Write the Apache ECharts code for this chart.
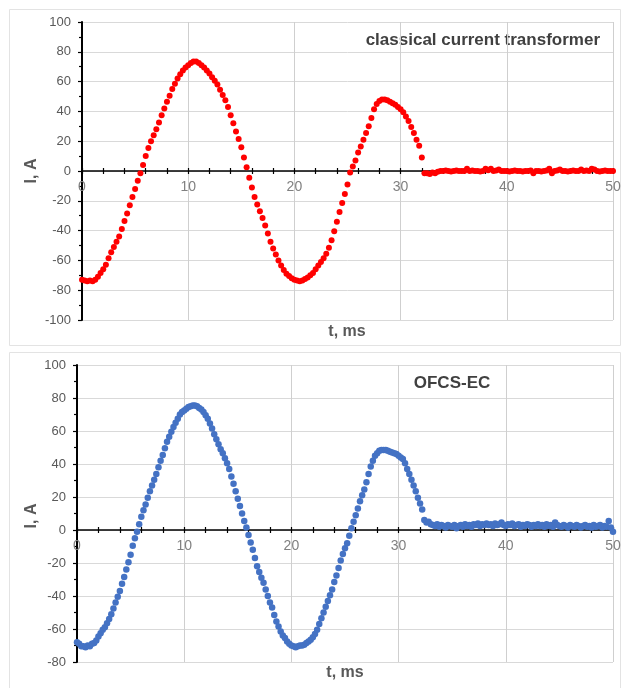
<!DOCTYPE html>
<html>
<head>
<meta charset="utf-8">
<title>classical current transformer / OFCS-EC</title>
<script src="https://cdn.jsdelivr.net/npm/echarts@6.0.0/dist/echarts.min.js"></script>
<style>
  html, body { margin: 0; padding: 0; background: #fff; }
  #chart { width: 622px; height: 688px; }
</style>
</head>
<body>
<div id="chart"></div>
<script>
// time axis, ms
var tRange = [0, 50];
var tInterval = 10;

// current axis ranges, A
var yRangeTop = [-100, 100];
var yRangeBottom = [-80, 100];
var yInterval = 20;

// classical current transformer, one sample every 0.25 ms (rows = 2 ms)
var ctStep = 0.25;
var ctCurrent = [
  -73, -73.5, -74, -73.5, -74, -73, -71, -68.5,
  -66, -63, -58.5, -54.5, -51, -47.5, -44, -39,
  -33.5, -28.5, -23, -17.5, -12, -6.5, -1.5, 4,
  10, 15.5, 20, 24, 28, 32.5, 37.5, 42,
  46.5, 50.5, 55, 58.5, 62, 65, 67.5, 69.5,
  71, 72.5, 73.5, 73.5, 72.5, 71, 69.5, 67.5,
  65.5, 63, 60.5, 58, 54.5, 51, 47.5, 43,
  37.5, 32, 26.5, 21.5, 16, 9, 2.5, -4.5,
  -11, -17.5, -22.5, -27, -31.5, -36.5, -42, -47.5,
  -52, -56, -60, -63.5, -66.5, -69, -70.5, -72,
  -73, -73.5, -74, -73.5, -72.5, -71.5, -70, -68.5,
  -66, -63.5, -61, -58.5, -55.5, -51.5, -46.5, -40.5,
  -34, -27.5, -21.5, -15.5, -9, -1, 3, 7,
  12.5, 16.5, 21, 25.5, 30, 35.5, 41.5, 45,
  47, 48, 48, 47.5, 46.5, 45.5, 44.5, 43,
  41.5, 39.5, 36.5, 33.5, 29.5, 25.5, 21, 17,
  9, -1.5, -1.5, -2, -1, -1.5, -0.5, 0,
  0, 0.3, 0, -0.3, 0, 0.3, 0, 0,
  0, 1.5, 0, 0.3, 0, 0, -0.3, 0,
  1.5, 0.5, 1.5, 0, 0.3, 1, 0, 0,
  0, -0.3, 0, 0.3, 0, 0, -0.3, 0,
  0, 0.3, -1.5, 0, 0, -0.3, 0, 0.3,
  1.5, -1.5, 0, 0.3, 1, 0, 0, -0.3,
  0, 0.3, 0, 0, 1, 0, 0.3, 0,
  1.5, 1, 0, -0.3, 0, 0.3, 0, 0,
  0
];

// OFCS-EC, one sample every 0.2 ms (rows = 2 ms)
var ofcsStep = 0.2;
var ofcsCurrent = [
  -68, -69, -70.5, -70.5, -71, -70, -70.5, -69, -68.5, -67,
  -64.5, -62.5, -60.5, -59, -56.5, -54, -51, -47.5, -44, -40.5,
  -37, -32.5, -28.5, -24, -19.5, -15, -9.5, -5, -1, 3.5,
  8, 12, 15.5, 19.5, 23.5, 27, 30.5, 34, 38, 42,
  45.5, 49.5, 53.5, 56.5, 59.5, 62.5, 65, 67.5, 70, 71.5,
  72.5, 73.5, 74.5, 75, 75.5, 75.5, 75, 74, 73, 71.5,
  69.5, 67.5, 64.5, 61.5, 58, 55, 52, 49, 46.5, 43.5,
  40.5, 37, 32.5, 28, 23.5, 19, 14.5, 10, 5.5, 1.5,
  -3, -7.5, -12, -17, -22, -25.5, -29, -32, -36, -40,
  -44, -47, -51.5, -55.5, -58.5, -61.5, -64, -65.5, -67.5, -69,
  -70, -70.5, -71, -70.5, -70, -70, -69.5, -68.5, -67.5, -66.5,
  -65, -63, -60.5, -57, -53.5, -50, -46.5, -43, -39.5, -36,
  -31.5, -27.5, -23, -18.5, -14.5, -11, -8, -3.5, 1, 5,
  9, 13, 17.5, 21, 24.5, 29, 34, 38.5, 42, 45,
  46.5, 48, 48.5, 48.5, 48.5, 48, 47.5, 47, 46.5, 46,
  45, 44, 43, 40.5, 37, 34, 30.5, 27, 23.5, 19.5,
  16, 12.5, 6, 4.5, 5, 3.5, 3, 2.5, 3.5, 2,
  3, 2.5, 1.5, 3, 2.5, 2, 3, 1, 2.5, 3,
  2, 3.5, 2.5, 3, 2, 3.5, 3, 4, 2.5, 3.5,
  3, 4, 3, 3.5, 2.5, 4, 3, 3.5, 4.5, 3,
  2.5, 3.5, 3, 4, 2.5, 3, 3.5, 2, 3, 2.5,
  3.5, 3, 2, 3, 2.5, 3.5, 2.5, 3, 2, 3.5,
  2.5, 3, 2, 4.5, 3, 2.5, 2, 3, 2.5, 1.5,
  3, 2.5, 2, 3, 2.5, 1.5, 2.5, 3, 2, 2.5,
  1.5, 3, 2, 2.5, 3, 1.5, 2.5, 2, 5.5, 1.5,
  -1
];

var fontFamily = "'Liberation Sans', Arial, sans-serif";

var grids = [
  { left: 82, top: 22, width: 531, height: 298 },
  { left: 77, top: 365, width: 536, height: 297 }
];

function toPoints(values, step) {
  var pts = [];
  for (var i = 0; i < values.length; i++) {
    pts.push([Math.round(i * step * 100) / 100, values[i]]);
  }
  return pts;
}

// shift of the zero line above the bottom edge of a grid
function zeroOffset(grid, range) {
  return -grid.height * (0 - range[0]) / (range[1] - range[0]);
}

function mainX(gridIndex, range) {
  return {
    type: 'value', gridIndex: gridIndex, position: 'bottom',
    offset: zeroOffset(grids[gridIndex], range),
    min: tRange[0], max: tRange[1], interval: tInterval,
    axisLine: { show: true, onZero: false, lineStyle: { color: '#000', width: 1.6 } },
    axisTick: { show: true, length: 3, lineStyle: { color: '#000', width: 1.2 } },
    minorTick: { show: true, splitNumber: 5, length: 3, lineStyle: { color: '#000', width: 1.2 } },
    axisLabel: { color: '#808080', fontSize: 14, margin: 9, fontFamily: fontFamily },
    splitLine: { show: true, lineStyle: { color: '#cfcfcf', width: 1 } },
    minorSplitLine: { show: false }
  };
}

// second x axis, only to get ticks crossing the zero line
function tickX(gridIndex, range) {
  return {
    type: 'value', gridIndex: gridIndex, position: 'bottom',
    offset: zeroOffset(grids[gridIndex], range),
    min: tRange[0], max: tRange[1], interval: tInterval,
    axisLine: { show: false, onZero: false },
    axisTick: { show: true, inside: true, length: 3, lineStyle: { color: '#000', width: 1.2 } },
    minorTick: { show: true, splitNumber: 5, length: 3, lineStyle: { color: '#000', width: 1.2 } },
    axisLabel: { show: false },
    splitLine: { show: false }
  };
}

function mainY(gridIndex, range) {
  return {
    type: 'value', gridIndex: gridIndex, position: 'left',
    min: range[0], max: range[1], interval: yInterval,
    axisLine: { show: true, onZero: false, lineStyle: { color: '#000', width: 2 } },
    axisTick: { show: true, length: 4, lineStyle: { color: '#000', width: 1.2 } },
    minorTick: { show: true, splitNumber: 2, length: 3, lineStyle: { color: '#000', width: 1.2 } },
    axisLabel: { color: '#595959', fontSize: 13, margin: 11, fontFamily: fontFamily },
    splitLine: { show: true, lineStyle: { color: '#d9d9d9', width: 1 } }
  };
}

function label(text, x, y, align, size, color, rotation) {
  return {
    type: 'text', silent: true,
    x: x, y: y, rotation: rotation || 0,
    style: {
      text: text, x: 0, y: 0,
      align: align, verticalAlign: 'middle',
      textAlign: align, textVerticalAlign: 'middle',
      fill: color, font: 'bold ' + size + 'px ' + fontFamily
    }
  };
}

var chart = echarts.init(document.getElementById('chart'));

var option = {
  backgroundColor: '#ffffff',
  animation: false,
  grid: grids.map(function (g) {
    return { left: g.left, top: g.top, width: g.width, height: g.height, outerBoundsMode: 'none', containLabel: false };
  }),
  xAxis: [mainX(0, yRangeTop), tickX(0, yRangeTop), mainX(1, yRangeBottom), tickX(1, yRangeBottom)],
  yAxis: [mainY(0, yRangeTop), mainY(1, yRangeBottom)],
  graphic: [
    { type: 'rect', silent: true, z: -10, shape: { x: 9.5, y: 9.5, width: 611, height: 336 },
      style: { fill: null, stroke: '#e3e3e3', lineWidth: 1 } },
    { type: 'rect', silent: true, z: -10, shape: { x: 9.5, y: 352.5, width: 611, height: 340 },
      style: { fill: null, stroke: '#e3e3e3', lineWidth: 1 } },
    label('classical current transformer', 600, 40, 'right', 17, '#404040'),
    label('OFCS-EC', 452, 383, 'center', 17, '#404040'),
    label('t, ms', 347, 332, 'center', 16, '#595959'),
    label('t, ms', 345, 673, 'center', 16, '#595959'),
    label('I, A', 32, 171, 'center', 16, '#595959', Math.PI / 2),
    label('I, A', 32, 516, 'center', 16, '#595959', Math.PI / 2)
  ],
  series: [
    {
      name: 'classical current transformer', type: 'scatter',
      xAxisIndex: 0, yAxisIndex: 0,
      symbol: 'circle', symbolSize: 6,
      itemStyle: { color: '#ff0000', opacity: 1 },
      data: toPoints(ctCurrent, ctStep)
    },
    {
      name: 'OFCS-EC', type: 'scatter',
      xAxisIndex: 2, yAxisIndex: 1,
      symbol: 'circle', symbolSize: 6.5,
      itemStyle: { color: '#4472c4', opacity: 1 },
      data: toPoints(ofcsCurrent, ofcsStep)
    }
  ]
};

chart.setOption(option);
</script>
</body>
</html>
